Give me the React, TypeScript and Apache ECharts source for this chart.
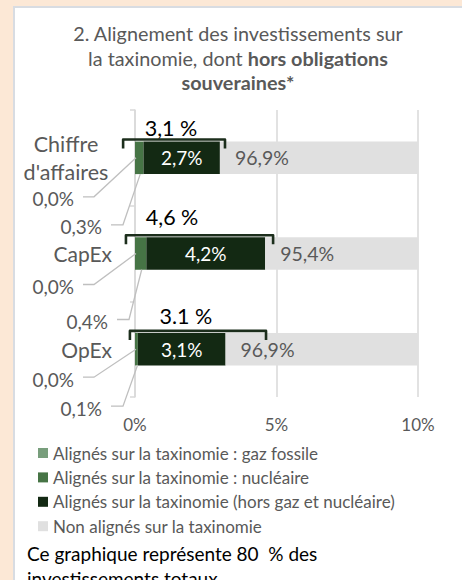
import React, { useEffect, useRef } from "react";
import * as echarts from "echarts";

const CATEGORIES = ["Chiffre d'affaires", "CapEx", "OpEx"];
const GAZ = [0.0, 0.0, 0.0];
const NUCLEAIRE = [0.3, 0.4, 0.1];
const HORS_GAZ_NUC = [2.7, 4.2, 3.1];
const NON_ALIGNES = [96.9, 95.4, 96.9];
const TOTAL_LABELS = ["3,1 %", "4,6 %", "3.1 %"];
// bracket annotations (in axis %): start, end, label centre
const BRACKET_START = [-0.42, -0.32, -0.18];
const BRACKET_END = [3.18, 4.88, 4.63];
const BRACKET_TEXT_AT = [1.27, 1.31, 1.8];
const X_MIN = 0;
const X_MAX = 10;
const X_INTERVAL = 5;
const SERIES_NAMES = [
  "Alignés sur la taxinomie : gaz fossile",
  "Alignés sur la taxinomie : nucléaire",
  "Alignés sur la taxinomie (hors gaz et nucléaire)",
  "Non alignés sur la taxinomie",
];

// layout / style (not data)
const FONT = "Lato, 'Noto Sans', sans-serif";
const GRAY = "#595959";
const COLORS = ["#789e7c", "#467445", "#132913", "#e0e0e0"];
const BAR_RATIO = 0.34;
const TEXT_DY = [-30, -37, -33];
const GAZ_DY = [39, 31, 28];
const NUC_DY = [67, 66, 57];
const NUC_DX = [0, 6, 0];

const fmt = (v: number) => v.toFixed(1).replace(".", ",") + "%";

export default function App() {
  const ref = useRef<HTMLDivElement>(null);
  useEffect(() => {
    if (!ref.current) return;
    const chart = echarts.init(ref.current, null, { renderer: "svg" });

    const bracketData = CATEGORIES.map((_, i) => [i, BRACKET_START[i], BRACKET_END[i], BRACKET_TEXT_AT[i]]);
    const calloutData = CATEGORIES.map((_, i) => [i, GAZ[i], NUCLEAIRE[i]]);

    const option: any = {
      animation: false,
      backgroundColor: "transparent",
      textStyle: { fontFamily: FONT },
      graphic: [
        {
          type: "rect",
          z: -10,
          silent: true,
          shape: { x: 14, y: 7, width: 470, height: 600 },
          style: { fill: "#ffffff", stroke: "#d8dce2", lineWidth: 2 },
        },
        {
          type: "text",
          x: 238,
          y: 21,
          style: {
            text: "{n|2. Alignement des investissements sur}\n{n|la taxinomie, dont }{b|hors obligations}\n{b|souveraines*}",
            align: "center",
            verticalAlign: "top",
            fontFamily: FONT,
            rich: {
              n: { fontSize: 19.8, fill: GRAY, fontFamily: FONT, lineHeight: 24.5 },
              b: { fontSize: 19.8, fill: GRAY, fontFamily: FONT, fontWeight: "bold", lineHeight: 24.5 },
            },
          },
        },
        {
          type: "text",
          x: 27,
          y: 541,
          style: {
            text: "Ce graphique représente 80  % des\ninvestissements totaux",
            fontFamily: FONT,
            fontSize: 19,
            lineHeight: 25,
            fill: "#000000",
            align: "left",
            verticalAlign: "top",
          },
        },
      ],
      legend: {
        orient: "vertical",
        left: 38,
        top: 444,
        padding: 0,
        icon: "rect",
        itemWidth: 10,
        itemHeight: 10,
        itemGap: 6.4,
        data: SERIES_NAMES,
        textStyle: { color: GRAY, fontSize: 17, fontFamily: FONT, lineHeight: 18 },
      },
      grid: { left: 135, right: 44, top: 110, bottom: 183 },
      xAxis: {
        type: "value",
        min: X_MIN,
        max: X_MAX,
        interval: X_INTERVAL,
        axisLine: { show: false },
        axisTick: { show: false },
        splitLine: { lineStyle: { color: "#d9d9d9", width: 1.5 } },
        axisLabel: { formatter: "{value}%", color: GRAY, fontSize: 17, fontFamily: FONT, margin: 19 },
      },
      yAxis: {
        type: "category",
        inverse: true,
        data: CATEGORIES,
        axisLine: { show: true, lineStyle: { color: "#d9d9d9", width: 1.5 } },
        axisTick: { show: true, length: 5, lineStyle: { color: "#d9d9d9", width: 1.5 } },
        axisLabel: {
          color: GRAY,
          fontSize: 21,
          fontFamily: FONT,
          margin: 23,
          formatter: (v: string) => (v === "Chiffre d'affaires" ? "{c|Chiffre}\n{c|d'affaires}" : v),
          rich: { c: { width: 92, align: "center", lineHeight: 28, fontSize: 21.5, color: GRAY, fontFamily: FONT } },
        },
      },
      series: [
        {
          name: SERIES_NAMES[0],
          type: "bar",
          stack: "a",
          barWidth: BAR_RATIO * 100 + "%",
          data: GAZ,
          itemStyle: { color: COLORS[0] },
        },
        {
          name: SERIES_NAMES[1],
          type: "bar",
          stack: "a",
          data: NUCLEAIRE,
          itemStyle: { color: COLORS[1] },
        },
        {
          name: SERIES_NAMES[2],
          type: "bar",
          stack: "a",
          data: HORS_GAZ_NUC,
          itemStyle: { color: COLORS[2] },
          label: {
            show: true,
            position: "inside",
            color: "#ffffff",
            fontSize: 19,
            fontFamily: FONT,
            formatter: (p: any) => fmt(p.value),
          },
        },
        {
          name: SERIES_NAMES[3],
          type: "bar",
          stack: "a",
          data: NON_ALIGNES,
          itemStyle: { color: COLORS[3] },
          label: {
            show: true,
            position: "insideLeft",
            distance: 15,
            color: GRAY,
            fontSize: 19.5,
            fontFamily: FONT,
            formatter: (p: any) => fmt(p.value),
          },
        },
        {
          type: "custom",
          name: "brackets",
          z: 5,
          encode: { x: [1, 2], y: 0 },
          data: bracketData,
          renderItem: (params: any, api: any) => {
            const i = api.value(0);
            const s = api.coord([api.value(1), i]);
            const e = api.coord([api.value(2), i]);
            const t = api.coord([api.value(3), i]);
            const h = api.size([0, 1])[1] * BAR_RATIO;
            const top = s[1] - h / 2 - 2;
            return {
              type: "group",
              children: [
                {
                  type: "polyline",
                  shape: { points: [[s[0], top + 9], [s[0], top], [e[0], top], [e[0], top + 9]] },
                  style: { stroke: "#1c2e1c", lineWidth: 2.6, fill: null, lineJoin: "round" },
                },
                {
                  type: "text",
                  x: t[0],
                  y: s[1] + TEXT_DY[i],
                  style: {
                    text: TOTAL_LABELS[i],
                    align: "center",
                    verticalAlign: "middle",
                    fontSize: 21.5,
                    fontFamily: FONT,
                    fill: "#000000",
                  },
                },
              ],
            };
          },
        },
        {
          type: "custom",
          name: "callouts",
          z: 4,
          encode: { x: [1, 2], y: 0 },
          data: calloutData,
          renderItem: (params: any, api: any) => {
            const i = api.value(0);
            const g = api.value(1);
            const n = api.value(2);
            const c0 = api.coord([0, i]);
            const x0 = c0[0];
            const yc = c0[1];
            const h = api.size([0, 1])[1] * BAR_RATIO;
            const gazAnchor = api.coord([g / 2, i]);
            const nucAnchor = api.coord([g + n / 2, i]);
            const gy = yc + GAZ_DY[i];
            const ny = yc + NUC_DY[i];
            const lineStyle = { stroke: "#bfbfbf", lineWidth: 1.3, fill: null };
            const txt = (x: number, y: number, s: string) => ({
              type: "text",
              x,
              y,
              style: { text: s, align: "right", verticalAlign: "middle", fontSize: 19, fontFamily: FONT, fill: GRAY },
            });
            return {
              type: "group",
              children: [
                {
                  type: "polyline",
                  shape: { points: [[gazAnchor[0] + 1, yc], [x0 - 41, gy], [x0 - 52, gy]] },
                  style: lineStyle,
                },
                txt(x0 - 61, gy + 2, fmt(g)),
                {
                  type: "polyline",
                  shape: {
                    points: [
                      [nucAnchor[0] + 1, yc + h / 2],
                      [x0 - 12 + NUC_DX[i], ny],
                      [x0 - 24 + NUC_DX[i], ny],
                    ],
                  },
                  style: lineStyle,
                },
                txt(x0 - 33 + NUC_DX[i], ny + 2, fmt(n)),
              ],
            };
          },
        },
      ],
    };
    chart.setOption(option);
    return () => chart.dispose();
  }, []);

  return (
    <div style={{ position: "fixed", left: 0, top: 0, width: 462, height: 580, background: "#fce8d6" }}>
      <div ref={ref} style={{ width: 462, height: 580 }} />
    </div>
  );
}
